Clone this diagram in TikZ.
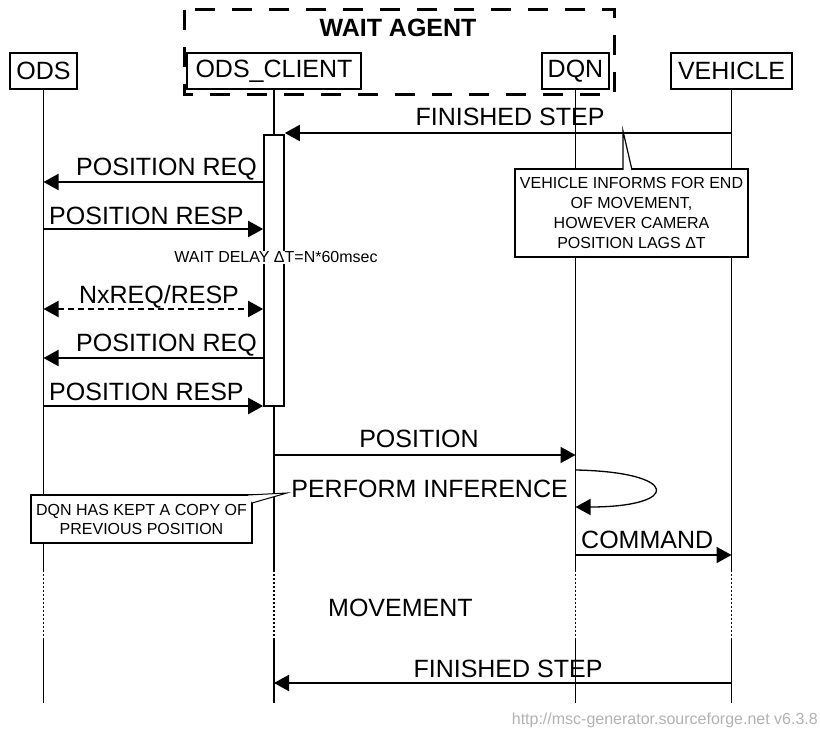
\documentclass[tikz,border=0pt]{standalone}
\usepackage{fontspec}
\setmainfont{Liberation Sans}
\usetikzlibrary{arrows.meta}

\tikzset{
    entity/.style={draw, line width=1.6pt, fill=white, inner sep=0pt, minimum height=36pt, font=\fontsize{25}{30}\selectfont},
    lifeline/.style={line width=1.6pt},
    gapline/.style={line width=1.3pt, dash pattern=on 2pt off 2pt},
    msg/.style={line width=2pt, -{Triangle[length=15pt, width=16pt]}},
    msglabel/.style={inner sep=0pt, anchor=base, font=\fontsize{25}{30}\selectfont},
    smalltext/.style={inner sep=0pt, align=center, font=\fontsize{16}{19}\selectfont},
    notebox/.style={smalltext, draw, line width=1.6pt, fill=white},
}

\begin{document}
\begin{tikzpicture}[x=1pt, y=-1pt]
    \useasboundingbox (0,0) rectangle (820,730);

    \draw [line width=3pt, dash pattern=on 20pt off 17pt] (184,10) rectangle (614,95);
    \node [msglabel, font=\bfseries\fontsize{25}{30}\selectfont] (waitagent) at (398,37) {WAIT AGENT};

    \node [entity, minimum width=67pt] (ods) at (43.5,71) {ODS};
    \node [entity, minimum width=174pt] (client) at (274,71) {ODS\_CLIENT};
    \node [entity, minimum width=67pt] (dqn) at (575.5,71) {DQN};
    \node [entity, minimum width=121pt] (vehicle) at (731.5,71) {VEHICLE};

    \foreach \e in {ods, client, dqn, vehicle} {
        \draw [lifeline] (\e.south) -- (\e.south |- 0,570);
        \draw [gapline] (\e.south |- 0,570) -- (\e.south |- 0,640);
        \draw [lifeline] (\e.south |- 0,640) -- (\e.south |- 0,703);
    }

    \node [draw, line width=1.6pt, fill=white, inner sep=0pt, minimum width=20pt, minimum height=271pt] (act) at (client.south |- 0,270.5) {};

    \node [notebox, minimum width=233pt, minimum height=88pt] (lagnote) at (631.5,213)
        {VEHICLE INFORMS FOR END\\[1pt]OF MOVEMENT,\\[1pt]HOWEVER CAMERA\\[1pt]POSITION LAGS ΔT};
    \coordinate (lagtip) at (623,131);
    \filldraw [fill=white, line width=1.2pt] (623,170) -- (lagtip) -- (632,170);

    \node [notebox, minimum width=221pt, minimum height=48pt] (keptnote) at (141.5,519)
        {DQN HAS KEPT A COPY OF\\PREVIOUS POSITION};
    \coordinate (kepttip) at (287,493);
    \filldraw [fill=white, line width=1pt] (248,495) -- (kepttip) -- (252,503);

    \draw [msg] (vehicle |- 0,133) -- (act.east |- 0,133);
    \node [msglabel] (finished) at (510,126) {FINISHED STEP};

    \draw [msg] (act.west |- 0,182) -- (ods |- 0,182);
    \node [msglabel, anchor=base east] (req) at (257,176) {POSITION REQ};
    \draw [msg] (ods |- 0,229) -- (act.west |- 0,229);
    \node [msglabel, anchor=base west] (resp) at (49,225) {POSITION RESP};

    \node [smalltext, anchor=base, fill=white, inner ysep=1pt] (waitdelay) at (276,263) {WAIT DELAY ΔT=N*60msec};

    \draw [msg, {Triangle[length=15pt, width=16pt]}-{Triangle[length=15pt, width=16pt]}, dash pattern=on 6pt off 4pt] (ods |- 0,309) -- (act.west |- 0,309);
    \node [msglabel] (nreq) at (159,304) {NxREQ/RESP};

    \draw [msg] (act.west |- 0,358) -- (ods |- 0,358);
    \node [msglabel, anchor=base east] (req2) at (257,352) {POSITION REQ};
    \draw [msg] (ods |- 0,406) -- (act.west |- 0,406);
    \node [msglabel, anchor=base west] (resp2) at (49,400) {POSITION RESP};

    \draw [msg] (client |- 0,455) -- (dqn |- 0,455);
    \node [msglabel] (position) at (419,447) {POSITION};

    \draw [msg, line width=1.3pt] (dqn |- 0,470) .. controls (681,472) and (681,507) .. (dqn |- 0,507);
    \node [msglabel, anchor=base east] (infer) at (568,497) {PERFORM INFERENCE};

    \draw [msg] (dqn |- 0,555) -- (vehicle |- 0,555);
    \node [msglabel, anchor=base west] (command) at (581,548) {COMMAND};

    \node [msglabel, anchor=base west] (movement) at (328,616) {MOVEMENT};

    \draw [msg] (vehicle |- 0,683) -- (client |- 0,683);
    \node [msglabel] (finished2) at (508,677) {FINISHED STEP};

    \node [smalltext, anchor=base east, text=gray!60] (credit) at (818,724) {http://msc-generator.sourceforge.net v6.3.8};
\end{tikzpicture}
\end{document}
